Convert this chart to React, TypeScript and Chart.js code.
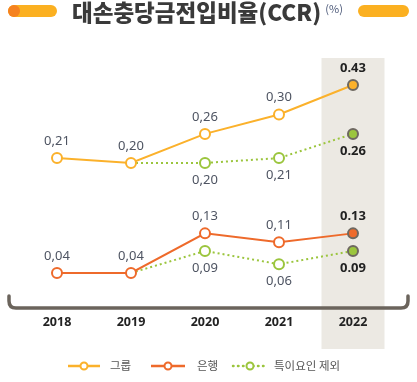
import React, { useEffect, useRef } from "react";
import { Chart, registerables, LinearScale } from "chart.js";

const years = ["2018", "2019", "2020", "2021", "2022"];
const groupValues = [0.21, 0.2, 0.26, 0.3, 0.43];
const bankValues = [0.04, 0.04, 0.13, 0.11, 0.13];
const groupExclValues = [null, 0.2, 0.2, 0.21, 0.26];
const bankExclValues = [null, 0.04, 0.09, 0.06, 0.09];
const legendLabels = ["그룹", "은행", "특이요인 제외"];
const titleText = "대손충당금전입비율(CCR)";
const unitText = "(%)";

// broken-axis knots: [data value, axis position]
const axisBreaks: [number, number][] = [
  [0, 0],
  [0.13, 0.13],
  [0.2, 0.29],
  [0.3, 0.4],
  [0.43, 0.467],
];

function warp(v: number): number {
  for (let i = 1; i < axisBreaks.length; i++) {
    const [a0, b0] = axisBreaks[i - 1];
    const [a1, b1] = axisBreaks[i];
    if (v <= a1 || i === axisBreaks.length - 1) {
      return b0 + ((v - a0) * (b1 - b0)) / (a1 - a0);
    }
  }
  return v;
}
function unwarp(d: number): number {
  for (let i = 1; i < axisBreaks.length; i++) {
    const [a0, b0] = axisBreaks[i - 1];
    const [a1, b1] = axisBreaks[i];
    if (d <= b1 || i === axisBreaks.length - 1) {
      return a0 + ((d - b0) * (a1 - a0)) / (b1 - b0);
    }
  }
  return d;
}

class BrokenScale extends LinearScale {
  static id = "broken";
  getPixelForValue(value: any) {
    return super.getPixelForValue(warp(value));
  }
  getValueForPixel(pixel: number) {
    return unwarp(super.getValueForPixel(pixel) as number);
  }
}

Chart.register(...registerables, BrokenScale);

const GROUP = "#FBB12B";
const BANK = "#EE6A2B";
const GREEN = "#9BC53D";
const HILITE_BORDER = "#6E6860";
const BAND = "#ECE9E3";
const KR = "'Noto Sans CJK KR', 'Noto Sans', sans-serif";
const NUM = "'Noto Sans', 'Noto Sans CJK KR', sans-serif";

function pointColors(color: string) {
  return {
    bg: years.map((_, i) => (i === years.length - 1 ? color : "#ffffff")),
    border: years.map((_, i) => (i === years.length - 1 ? HILITE_BORDER : color)),
  };
}

const decor = {
  id: "decor",
  beforeDatasetsDraw(chart: any) {
    const ctx = chart.ctx;
    const x = chart.scales.x;
    const last = x.getPixelForValue(years.length - 1);
    ctx.save();
    ctx.fillStyle = BAND;
    ctx.fillRect(last - 31.5, 58, 63, 291);
    // bracket axis
    ctx.strokeStyle = "#6B645C";
    ctx.lineWidth = 3.5;
    ctx.lineCap = "round";
    ctx.beginPath();
    ctx.moveTo(9, 296);
    ctx.lineTo(9, 301);
    ctx.quadraticCurveTo(9, 308, 16, 308);
    ctx.lineTo(401, 308);
    ctx.quadraticCurveTo(408, 308, 408, 301);
    ctx.lineTo(408, 296);
    ctx.stroke();
    // x labels
    ctx.fillStyle = "#222222";
    ctx.font = `bold 12.5px ${NUM}`;
    ctx.textAlign = "center";
    ctx.textBaseline = "middle";
    years.forEach((y, i) => ctx.fillText(y, x.getPixelForValue(i), 322));
    // title pills
    const pill = (x0: number, x1: number) => {
      ctx.fillStyle = "#FBB021";
      ctx.beginPath();
      ctx.roundRect(x0, 5, x1 - x0, 12, 6);
      ctx.fill();
    };
    pill(8, 57);
    pill(358, 409);
    ctx.fillStyle = "#F58220";
    ctx.beginPath();
    ctx.arc(14, 11, 6, 0, Math.PI * 2);
    ctx.fill();
    // title
    ctx.fillStyle = "#3A3A3A";
    ctx.font = `900 22.5px ${KR}`;
    ctx.textAlign = "left";
    ctx.textBaseline = "middle";
    ctx.fillText(titleText, 72, 12);
    const tw = ctx.measureText(titleText).width;
    ctx.fillStyle = "#4B5878";
    ctx.font = `11px ${KR}`;
    ctx.fillText(unitText, 72 + tw + 4, 9);
    // legend
    const ly = 366;
    const legendItem = (x0: number, x1: number, color: string, dotted: boolean, label: string, tx: number) => {
      ctx.strokeStyle = color;
      ctx.lineWidth = 2.5;
      ctx.lineCap = dotted ? "round" : "butt";
      ctx.setLineDash(dotted ? [0.5, 4.5] : []);
      ctx.beginPath();
      ctx.moveTo(x0, ly);
      ctx.lineTo(x1, ly);
      ctx.stroke();
      ctx.setLineDash([]);
      const cx = (x0 + x1) / 2;
      ctx.fillStyle = "#ffffff";
      ctx.lineWidth = 2;
      ctx.beginPath();
      ctx.arc(cx, ly, 3.5, 0, Math.PI * 2);
      ctx.fill();
      ctx.stroke();
      ctx.fillStyle = "#555555";
      ctx.font = `11.5px ${KR}`;
      ctx.textAlign = "left";
      ctx.fillText(label, tx, ly);
    };
    legendItem(68, 100, GROUP, false, legendLabels[0], 110);
    legendItem(151, 185, BANK, false, legendLabels[1], 197);
    legendItem(233, 267, GREEN, true, legendLabels[2], 274);
    ctx.restore();
  },
  afterDatasetsDraw(chart: any) {
    const ctx = chart.ctx;
    const x = chart.scales.x;
    const y = chart.scales.y;
    const sets: { data: (number | null)[]; dy: number }[] = [
      { data: groupValues, dy: -17 },
      { data: bankValues, dy: -17 },
      { data: groupExclValues, dy: 17 },
      { data: bankExclValues, dy: 17 },
    ];
    ctx.save();
    ctx.textAlign = "center";
    ctx.textBaseline = "middle";
    sets.forEach((s, si) => {
      s.data.forEach((v, i) => {
        if (v === null) return;
        if (si >= 2 && i === 1) return;
        const last = i === years.length - 1;
        ctx.font = last ? `bold 13px ${NUM}` : `13px ${NUM}`;
        ctx.fillStyle = last ? "#222222" : "#4E5462";
        const txt = last ? v.toFixed(2) : v.toFixed(2).replace(".", ",");
        ctx.fillText(txt, x.getPixelForValue(i), y.getPixelForValue(v) + s.dy);
      });
    });
    ctx.restore();
  },
};

export default function App() {
  const ref = useRef<HTMLCanvasElement>(null);
  useEffect(() => {
    if (!ref.current) return;
    const g = pointColors(GROUP);
    const b = pointColors(BANK);
    const gr = pointColors(GREEN);
    const chart = new Chart(ref.current, {
      type: "line",
      data: {
        labels: years,
        datasets: [
          {
            data: groupValues,
            borderColor: GROUP,
            borderWidth: 2,
            pointRadius: 5,
            pointBorderWidth: 2,
            pointBackgroundColor: g.bg,
            pointBorderColor: g.border,
          },
          {
            data: bankValues,
            borderColor: BANK,
            borderWidth: 2,
            pointRadius: 5,
            pointBorderWidth: 2,
            pointBackgroundColor: b.bg,
            pointBorderColor: b.border,
          },
          {
            data: groupExclValues,
            borderColor: GREEN,
            borderWidth: 2,
            borderDash: [2, 3],
            pointRadius: [0, 0, 5, 5, 5],
            pointBorderWidth: 2,
            pointBackgroundColor: gr.bg,
            pointBorderColor: gr.border,
          },
          {
            data: bankExclValues,
            borderColor: GREEN,
            borderWidth: 2,
            borderDash: [2, 3],
            pointRadius: [0, 0, 5, 5, 5],
            pointBorderWidth: 2,
            pointBackgroundColor: gr.bg,
            pointBorderColor: gr.border,
          },
        ] as any,
      },
      options: {
        animation: false,
        responsive: false,
        layout: { padding: { left: 20, right: 27, top: 70.5, bottom: 91.4 } },
        plugins: { legend: { display: false }, tooltip: { enabled: false } },
        scales: {
          x: { type: "category", offset: true, display: false },
          y: { type: "broken" as any, min: 0, max: 0.5, display: false },
        },
      },
      plugins: [decor],
    });
    return () => chart.destroy();
  }, []);
  return (
    <div style={{ position: "fixed", left: 0, top: 0, width: 417, height: 382, background: "#fff" }}>
      <canvas ref={ref} width={417} height={382} style={{ width: 417, height: 382 }} />
    </div>
  );
}
